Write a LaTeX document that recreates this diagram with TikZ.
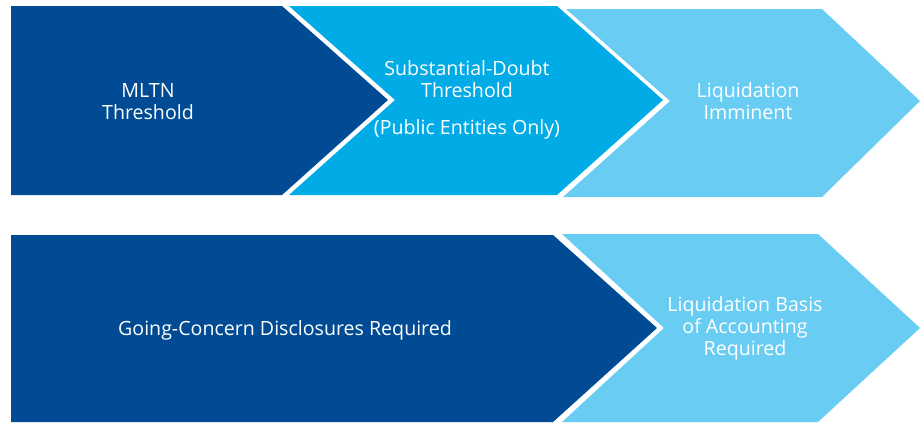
\documentclass[tikz,border=0pt]{standalone}
\usepackage{fontspec}
\setmainfont{Open Sans}
\definecolor{navy}{HTML}{004B93}
\definecolor{azure}{HTML}{00ABE6}
\definecolor{sky}{HTML}{69CDF3}
\begin{document}
\begin{tikzpicture}[x=1pt,y=-1pt,
  label text/.style={text=white, font=\fontsize{19.6}{22}\selectfont, align=center, anchor=base, inner sep=0pt}]
\useasboundingbox (0,0) rectangle (920,423);
% upper row of chevrons
\fill[navy]  (11,6) -- (282,6) -- (388,100) -- (282,195) -- (11,195) -- cycle;
\fill[azure] (289,6) -- (557,6) -- (663,100) -- (557,195) -- (289,195) -- (395,100) -- cycle;
\fill[sky]   (566,9) -- (822,9) -- (920,101) -- (822,197) -- (563,197) -- (670,101) -- cycle;
% lower row
\fill[navy]  (11,235) -- (553,235) -- (657,328) -- (553,422) -- (11,422) -- cycle;
\fill[sky]   (562,234) -- (818,234) -- (920,328) -- (818,422) -- (562,422) -- (664,328) -- cycle;
% labels (placed at the baseline of their last line)
\node[label text] (mltn) at (148,119) {MLTN\\Threshold};
\node[label text] (sdt) at (467,97) {Substantial-Doubt\\Threshold};
\node[label text] (pub) at (467,134) {(Public Entities Only)};
\node[label text] (liq) at (748,119) {Liquidation\\Imminent};
\node[label text] (gcd) at (285,335) {Going-Concern Disclosures Required};
\node[label text] (lba) at (745,355) {Liquidation Basis\\of Accounting\\Required};
\end{tikzpicture}
\end{document}
